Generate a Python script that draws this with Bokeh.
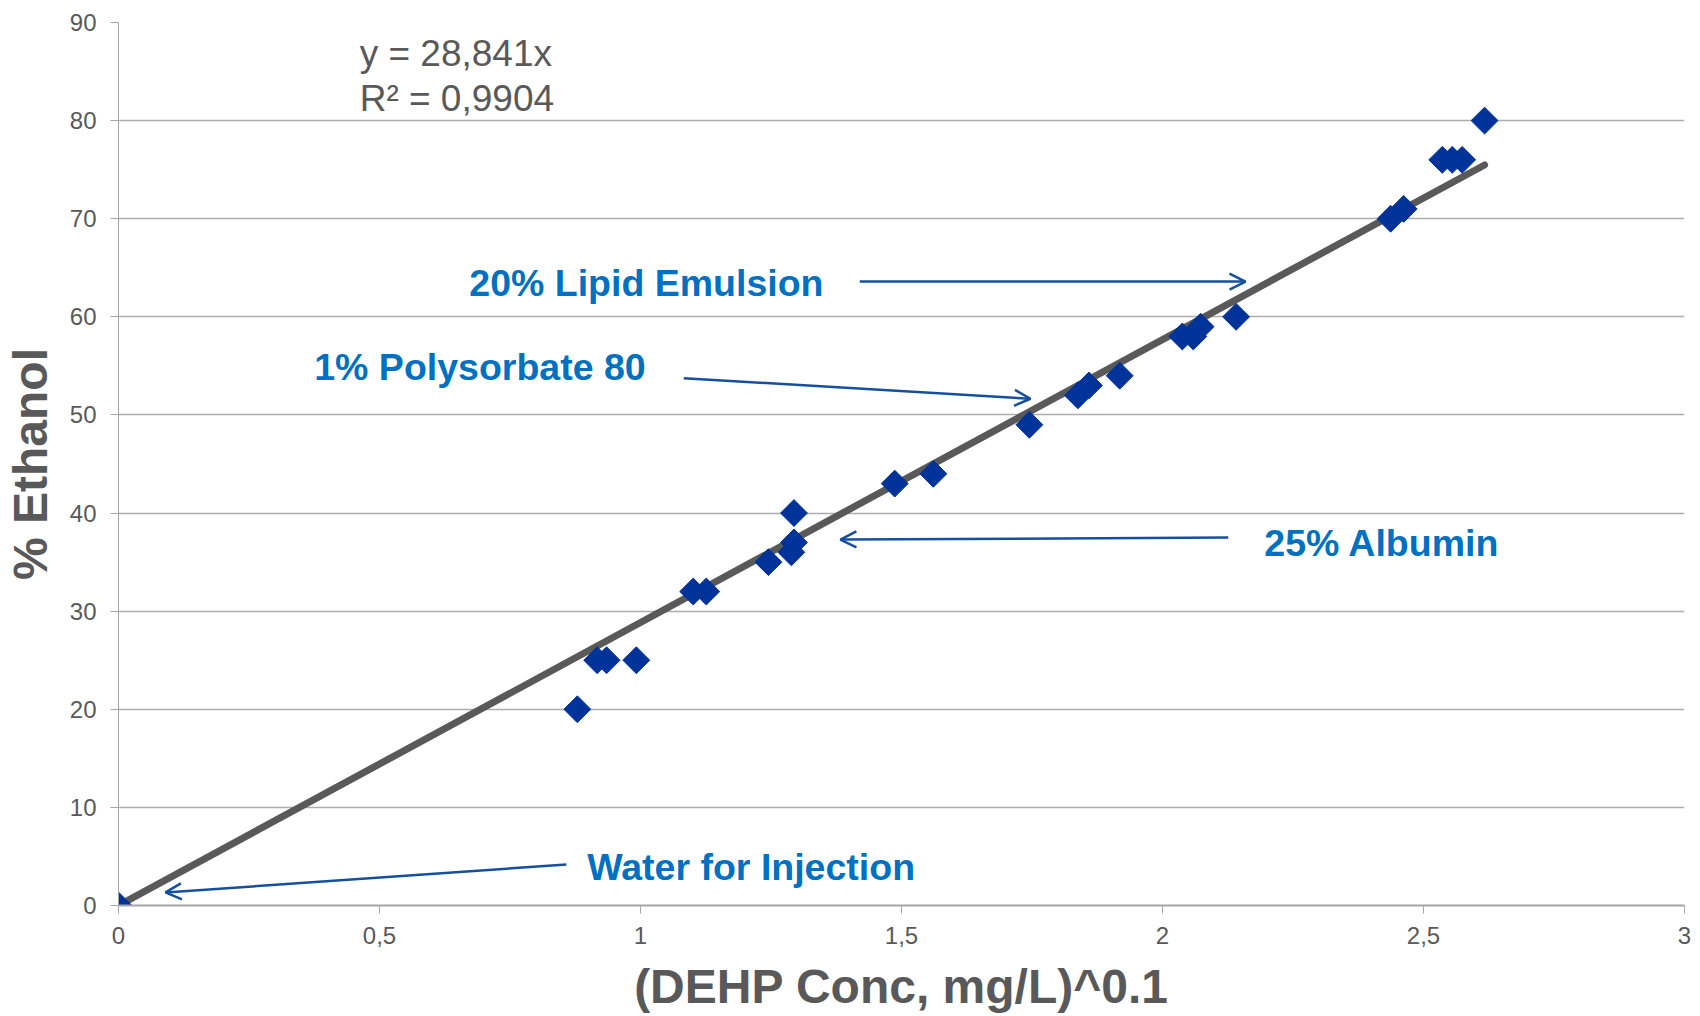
from bokeh.plotting import figure
from bokeh.models import (Range1d, Label, Arrow, OpenHead, ColumnDataSource,
                          FixedTicker, CustomJSTickFormatter)
from bokeh.embed import file_html
from bokeh.resources import INLINE

# ---- data ----
dehp_x = [0.0, 0.879, 0.917, 0.935, 0.992, 1.101, 1.126, 1.245, 1.289, 1.294, 1.294,
          1.487, 1.561, 1.745, 1.838, 1.859, 1.918, 2.038, 2.059, 2.073, 2.141,
          2.437, 2.462, 2.536, 2.555, 2.574, 2.617]
ethanol_y = [0, 20, 25, 25, 25, 32, 32, 35, 36, 37, 40,
             43, 44, 49, 52, 53, 54, 58, 58, 59, 60,
             70, 71, 76, 76, 76, 80]
slope = 28.841
eq_text = "y = 28,841x"
r2_text = "R² = 0,9904"
x_ticks = [0, 0.5, 1, 1.5, 2, 2.5, 3]
y_ticks = [0, 10, 20, 30, 40, 50, 60, 70, 80, 90]
x_title = "(DEHP Conc, mg/L)^0.1"
y_title = "% Ethanol"
annotations = [
    # text, text x, text y, arrow start x, y, arrow tip x, y
    ("20% Lipid Emulsion", 0.672, 63.45, 1.420, 63.6, 2.159, 63.6),
    ("1% Polysorbate 80", 0.375, 54.85, 1.083, 53.75, 1.747, 51.65),
    ("25% Albumin", 2.195, 36.95, 2.126, 37.5, 1.383, 37.3),
    ("Water for Injection", 0.898, 3.9, 0.858, 4.18, 0.090, 1.33),
]

FONT = "Liberation Sans"
GRAY = "#595959"
BLUE_TXT = "#0070C0"
ARROW_C = "#164F9E"

p = figure(width=1700, height=1016, output_backend="svg", toolbar_location=None,
           x_range=Range1d(0, 3), y_range=Range1d(0, 90),
           min_border_left=118, min_border_right=16, min_border_top=22,
           min_border_bottom=111)
p.outline_line_color = None
p.background_fill_color = "white"
p.border_fill_color = "white"

# grid
p.xgrid.grid_line_color = None
p.ygrid.grid_line_color = "#ADADAD"
p.ygrid.grid_line_width = 1.5

# axes
p.xaxis.ticker = FixedTicker(ticks=x_ticks)
p.yaxis.ticker = FixedTicker(ticks=y_ticks)
p.xaxis.formatter = CustomJSTickFormatter(code="return tick.toString().replace('.', ',');")
for ax in (p.xaxis, p.yaxis):
    ax.axis_line_color = "#A6A6A6"
    ax.major_tick_line_color = "#A6A6A6"
    ax.minor_tick_line_color = None
    ax.major_tick_in = 0
    ax.major_tick_out = 8
    ax.major_label_text_font = FONT
    ax.major_label_text_font_size = "24px"
    ax.major_label_text_color = GRAY
    ax.axis_label_text_font = FONT
    ax.axis_label_text_font_style = "bold"
    ax.axis_label_text_font_size = "48px"
    ax.axis_label_text_color = GRAY
p.xaxis.axis_line_width = 2
p.xaxis.major_label_standoff = 13
p.yaxis.major_label_standoff = 14
p.xaxis.axis_label = x_title
p.xaxis.axis_label_standoff = 13
p.xaxis.axis_label_text_line_height = 1.0
p.yaxis.axis_label = y_title
p.yaxis.axis_label_standoff = 10

# trend line
x_line = [0, max(dehp_x)]
y_line = [slope * v for v in x_line]
p.line(x_line, y_line, line_color=GRAY, line_width=7, line_cap="round")

# points
src = ColumnDataSource(dict(x=dehp_x, y=ethanol_y))
p.scatter("x", "y", source=src, marker="square", size=19, angle=0.785398,
          fill_color="#003399", line_color="#003399")

# equation
p.add_layout(Label(x=0.462, y=86.85, text=eq_text, text_font=FONT,
                   text_font_size="37px", text_color=GRAY, text_baseline="alphabetic"))
p.add_layout(Label(x=0.462, y=82.25, text=r2_text, text_font=FONT,
                   text_font_size="37px", text_color=GRAY, text_baseline="alphabetic"))

# annotations
for txt, tx, ty, sx, sy, ex, ey in annotations:
    p.add_layout(Label(x=tx, y=ty, text=txt, text_font=FONT, text_font_size="37.5px",
                       text_font_style="bold", text_color=BLUE_TXT,
                       text_baseline="alphabetic"))
    p.add_layout(Arrow(x_start=sx, y_start=sy, x_end=ex, y_end=ey,
                       line_color=ARROW_C, line_width=2.5,
                       end=OpenHead(size=16, line_color=ARROW_C, line_width=2.5)))

open("out.html", "w").write(file_html(p, INLINE))
